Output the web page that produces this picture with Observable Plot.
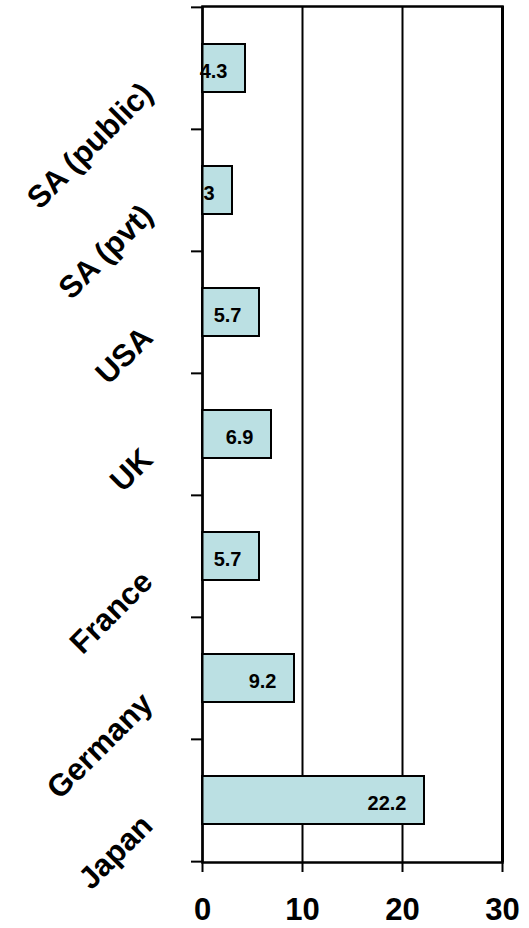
<!DOCTYPE html>
<html>
<head>
<meta charset="utf-8">
<script src="https://cdn.jsdelivr.net/npm/d3@7"></script>
<script src="https://cdn.jsdelivr.net/npm/@observablehq/plot@0.6"></script>
<style>
  html, body { margin: 0; padding: 0; background: #ffffff; }
  #chart svg { display: block; }
</style>
</head>
<body>
<div id="chart"></div>
<script>
const categories = ["SA (public)", "SA (pvt)", "USA", "UK", "France", "Germany", "Japan"];
const values = [4.3, 3, 5.7, 6.9, 5.7, 9.2, 22.2];
const xTicks = [0, 10, 20, 30];

const data = categories.map((c, i) => ({category: c, value: values[i]}));

const W = 529, H = 928;
const mTop = 6, mBottom = 66, mLeft = 202, mRight = 27;
const step = (H - mTop - mBottom) / categories.length;
const font = "'Liberation Sans', Arial, sans-serif";
const last = categories[categories.length - 1];

const chart = Plot.plot({
  width: W,
  height: H,
  marginTop: mTop,
  marginBottom: mBottom,
  marginLeft: mLeft,
  marginRight: mRight,
  style: {fontFamily: font, color: "#000", background: "#fff"},
  x: {domain: [0, 30], label: null},
  y: {domain: categories, padding: 0, label: null},
  marks: [
    // gridlines
    Plot.ruleX([10, 20], {stroke: "#000", strokeWidth: 2}),
    // plot frame
    Plot.frame({stroke: "#000", strokeWidth: 2.5}),
    // left tick marks at band boundaries
    Plot.ruleY(categories, {y: d => d, x1: 0, x2: 0, insetLeft: -11, stroke: "#000", strokeWidth: 2, dy: -step / 2}),
    Plot.ruleY([last], {y: d => d, x1: 0, x2: 0, insetLeft: -11, stroke: "#000", strokeWidth: 2, dy: step / 2}),
    // bars
    Plot.barX(data, {x: "value", y: "category", fill: "#bbe0e3", stroke: "#000", strokeWidth: 2, insetTop: 37, insetBottom: 37}),
    // value labels
    Plot.text(data, {x: "value", y: "category", text: d => String(d.value), textAnchor: "end", dx: -18, dy: 3, fontSize: 20, fontWeight: "bold", fill: "#000"}),
    // y axis line and right border
    Plot.ruleX([0], {stroke: "#000", strokeWidth: 2}),
    Plot.ruleX([30], {stroke: "#000", strokeWidth: 3}),
    // axes
    Plot.axisX({ticks: xTicks, tickSize: 10, tickPadding: 25, tickFormat: d3.format("d"), fontSize: 31, fontWeight: "bold", strokeWidth: 2, label: null}),
    Plot.axisY({tickSize: 0, tickPadding: 0, tickRotate: -45, textAnchor: "end", dx: -55, dy: 20, fontSize: 31, fontWeight: "bold", label: null})
  ]
});

document.getElementById("chart").appendChild(chart);
</script>
</body>
</html>
